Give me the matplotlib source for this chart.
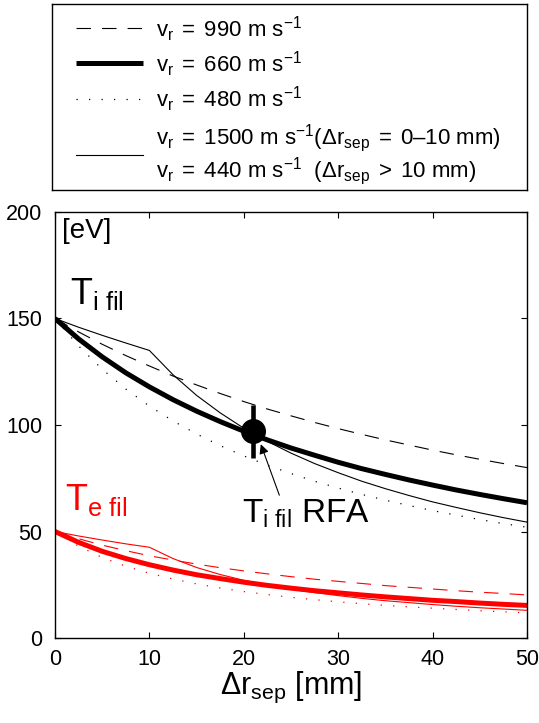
import numpy as np
import matplotlib
matplotlib.use("Agg")
import matplotlib.pyplot as plt

plt.rcParams['font.family'] = ['Liberation Sans', 'DejaVu Sans']
plt.rcParams['mathtext.fontset'] = 'custom'
plt.rcParams['mathtext.rm'] = 'Liberation Sans'
plt.rcParams['mathtext.it'] = 'Liberation Sans:italic'
plt.rcParams['mathtext.bf'] = 'Liberation Sans:bold'

# ---- DATA ----
dr_sep = [0, 2.5, 5, 7.5, 10, 12.5, 15, 17.5, 20, 22.5, 25,
          27.5, 30, 32.5, 35, 37.5, 40, 42.5, 45, 47.5, 50]

# ion filament temperature [eV]
ti_990 = [150, 143.7, 137.9, 132.6, 127.7, 123.0, 118.8, 114.8, 111.0, 107.5, 104.3,
          101.2, 98.3, 95.6, 93.0, 90.6, 88.2, 86.0, 83.9, 81.9, 80.0]
ti_660 = [150, 140.4, 132.0, 124.5, 117.9, 111.9, 106.5, 101.6, 97.1, 93.0, 89.2,
          85.8, 82.5, 79.5, 76.8, 74.2, 71.8, 69.5, 67.4, 65.4, 63.5]
ti_480 = [150, 137.1, 126.2, 116.9, 108.9, 101.9, 95.8, 90.3, 85.5, 81.1, 77.2,
          73.6, 70.4, 67.4, 64.7, 62.2, 59.8, 57.7, 55.6, 53.7, 52.0]
ti_1500_440 = [150, 145.9, 142.1, 138.5, 135.0, 123.6, 113.9, 105.7, 98.5, 92.3, 86.8,
               81.9, 77.6, 73.6, 70.1, 66.9, 63.9, 61.3, 58.8, 56.5, 54.4]

# electron filament temperature [eV]
te_990 = [50, 46.6, 43.6, 41.0, 38.6, 36.6, 34.7, 33.0, 31.5, 30.1, 28.8,
          27.6, 26.6, 25.6, 24.6, 23.8, 23.0, 22.2, 21.5, 20.9, 20.2]
te_660 = [50, 44.9, 40.7, 37.3, 34.4, 31.9, 29.7, 27.9, 26.2, 24.7, 23.4,
          22.2, 21.2, 20.2, 19.3, 18.5, 17.7, 17.1, 16.4, 15.8, 15.3]
te_480 = [50, 43.1, 37.8, 33.7, 30.4, 27.7, 25.4, 23.5, 21.8, 20.4, 19.1,
          18.0, 17.0, 16.1, 15.3, 14.6, 14.0, 13.4, 12.8, 12.3, 11.8]
te_1500_440 = [50, 47.9, 46.0, 44.2, 42.6, 37.3, 33.1, 29.8, 27.1, 24.9, 22.9,
               21.3, 19.9, 18.6, 17.5, 16.6, 15.7, 14.9, 14.2, 13.6, 13.0]

# RFA measurement
rfa_x = 21
rfa_y = 97
rfa_err = 12.5

legend_labels = [
    r'$\mathrm{v_r\;=\;990\ m\ s^{-1}}$',
    r'$\mathrm{v_r\;=\;660\ m\ s^{-1}}$',
    r'$\mathrm{v_r\;=\;480\ m\ s^{-1}}$',
    r'$\mathrm{v_r\;=\;1500\ m\ s^{-1}(\Delta r_{sep}\;=\;0\endash 10\ mm)}$',
    r'$\mathrm{v_r\;=\;440\ m\ s^{-1}\ \ (\Delta r_{sep}\;>\;10\ mm)}$',
]

# ---- STYLES ----
DASH = dict(lw=0.8, dashes=(13, 10))
THICK = dict(lw=3.6, solid_capstyle='butt')
DOT = dict(lw=0.9, dashes=(1, 9))
THIN = dict(lw=0.8)

fig = plt.figure(figsize=(5.39, 7.23), dpi=100)

# ---- main axes ----
ax = fig.add_axes([55/539, 1-638/723, 472/539, 426/723])

for color, series in [('k', (ti_990, ti_660, ti_480, ti_1500_440)),
                      ('#ff0000', (te_990, te_660, te_480, te_1500_440))]:
    s990, s660, s480, s1500 = series
    ax.plot(dr_sep, s990, color=color, **DASH)
    ax.plot(dr_sep, s480, color=color, **DOT)
    ax.plot(dr_sep, s1500, color=color, **THIN)
    ax.plot(dr_sep, s660, color=color, **THICK)

ax.errorbar([rfa_x], [rfa_y], yerr=[rfa_err], fmt='o', color='k',
            markersize=17, elinewidth=3.3, capsize=0, zorder=5)

ax.annotate(r'$\mathrm{T_{i\ fil}\ RFA}$', xy=(21.8, 91), xytext=(19.8, 54),
            fontsize=24, ha='left', va='baseline',
            arrowprops=dict(arrowstyle='-|>', lw=0.8, color='k',
                            mutation_scale=14, shrinkA=0, shrinkB=0,
                            relpos=(0.3, 1.0)))

ax.text(1.6, 157, r'$\mathrm{T_{i\ fil}}$', fontsize=26, va='baseline', ha='left')
ax.text(1.1, 60, r'$\mathrm{T_{e\ fil}}$', fontsize=26, va='baseline', ha='left',
        color='#ff0000')
ax.text(0.7, 197, '[eV]', fontsize=20, va='top', ha='left')

ax.set_xlim(0, 50)
ax.set_ylim(0, 200)
ax.set_xticks([0, 10, 20, 30, 40, 50])
ax.set_yticks([0, 50, 100, 150, 200])
ax.tick_params(direction='in', length=4, width=0.8, top=True, right=True,
               labelsize=15.5)
ax.tick_params(axis='y', pad=9)
ax.tick_params(axis='x', pad=8)
for sp in ax.spines.values():
    sp.set_linewidth(1.0)
ax.set_xlabel(r'$\mathrm{\Delta r_{sep}\ [mm]}$', fontsize=22, labelpad=0)

# ---- legend box (drawn in pixel units of the box) ----
lax = fig.add_axes([52/539, 1-190/723, 475/539, 186/723])
lax.set_xlim(0, 475)
lax.set_ylim(186, 0)
lax.set_xticks([])
lax.set_yticks([])
for sp in lax.spines.values():
    sp.set_linewidth(1.0)

sample_x = [24, 91]
lax.plot(sample_x, [24, 24], color='k', **DASH)
lax.plot(sample_x, [59, 59], color='k', **THICK)
lax.plot(sample_x, [95, 95], color='k', **DOT)
lax.plot(sample_x, [151, 151], color='k', **THIN)

text_y = [25, 60, 95, 134, 167]
for ty, lab in zip(text_y, legend_labels):
    lax.text(104, ty, lab, fontsize=16, va='center', ha='left')

fig.savefig('out.png', dpi=100)
